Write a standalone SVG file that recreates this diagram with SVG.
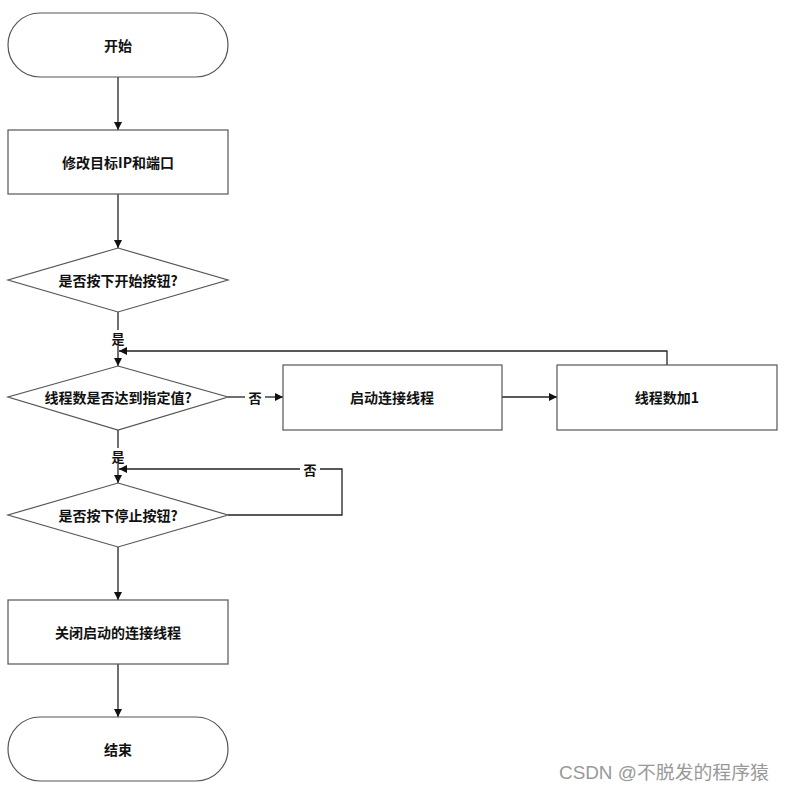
<svg xmlns="http://www.w3.org/2000/svg" width="786" height="790" viewBox="0 0 786 790">
<style>
.shape{fill:#fff;stroke:#555;stroke-width:1.2}
.t{font-family:"Noto Sans CJK SC","Microsoft YaHei",sans-serif;font-weight:bold;font-size:14px;fill:#111;text-anchor:middle;dominant-baseline:central}
.c{fill:none;stroke:#222;stroke-width:1.3}
.lbl{font-family:"Noto Sans CJK SC",sans-serif;font-weight:bold;font-size:13px;fill:#111;text-anchor:middle;dominant-baseline:central}
.wm{font-family:"Liberation Sans","Noto Sans CJK SC",sans-serif;font-size:18px;fill:#999}
</style>
<defs>
<marker id="ah" viewBox="0 0 10 10" refX="10" refY="5" markerWidth="8" markerHeight="8" markerUnits="userSpaceOnUse" orient="auto">
<path d="M0,0 L10,5 L0,10 z" fill="#111"/>
</marker>
</defs>
<rect width="786" height="790" fill="#fff"/>
<g id="connectors">
<line class="c" x1="118" y1="77" x2="118" y2="130" marker-end="url(#ah)"/>
<line class="c" x1="118" y1="194" x2="118" y2="248" marker-end="url(#ah)"/>
<line class="c" x1="118" y1="312" x2="118" y2="330"/>
<line class="c" x1="118" y1="346" x2="118" y2="366" marker-end="url(#ah)"/>
<line class="c" x1="228" y1="397" x2="245" y2="397"/>
<line class="c" x1="265" y1="397" x2="283" y2="397" marker-end="url(#ah)"/>
<line class="c" x1="502" y1="397" x2="557" y2="397" marker-end="url(#ah)"/>
<polyline class="c" points="667,365 667,351 119,351" marker-end="url(#ah)"/>
<line class="c" x1="118" y1="430" x2="118" y2="448"/>
<line class="c" x1="118" y1="464" x2="118" y2="483" marker-end="url(#ah)"/>
<polyline class="c" points="228,515 342,515 342,469 320,469"/>
<line class="c" x1="300" y1="469" x2="119" y2="469" marker-end="url(#ah)"/>
<line class="c" x1="118" y1="547" x2="118" y2="600" marker-end="url(#ah)"/>
<line class="c" x1="118" y1="664" x2="118" y2="717" marker-end="url(#ah)"/>
<text class="lbl" x="118" y="338">是</text>
<text class="lbl" x="255" y="397">否</text>
<text class="lbl" x="118" y="456">是</text>
<text class="lbl" x="310" y="469">否</text>
</g>
<g id="start">
<rect class="shape" x="8" y="13" width="220" height="64" rx="32" ry="32"/>
<text class="t" x="118" y="45">开始</text>
</g>
<g id="modify">
<rect class="shape" x="8" y="130" width="220" height="64"/>
<text class="t" x="118" y="162">修改目标IP和端口</text>
</g>
<g id="dec1">
<polygon class="shape" points="118,248 228,280 118,312 8,280"/>
<text class="t" x="118" y="280">是否按下开始按钮?</text>
</g>
<g id="dec2">
<polygon class="shape" points="118,366 228,397 118,430 8,397"/>
<text class="t" x="118" y="397">线程数是否达到指定值?</text>
</g>
<g id="startThread">
<rect class="shape" x="283" y="365" width="219" height="65"/>
<text class="t" x="392" y="397">启动连接线程</text>
</g>
<g id="inc">
<rect class="shape" x="557" y="365" width="220" height="65"/>
<text class="t" x="667" y="397">线程数加1</text>
</g>
<g id="dec3">
<polygon class="shape" points="118,483 228,515 118,547 8,515"/>
<text class="t" x="118" y="515">是否按下停止按钮?</text>
</g>
<g id="close">
<rect class="shape" x="8" y="600" width="220" height="64"/>
<text class="t" x="118" y="632">关闭启动的连接线程</text>
</g>
<g id="end">
<rect class="shape" x="8" y="717" width="220" height="64" rx="32" ry="32"/>
<text class="t" x="118" y="749">结束</text>
</g>
<text class="wm" x="559" y="779" textLength="210" lengthAdjust="spacingAndGlyphs">CSDN @不脱发的程序猿</text>
</svg>
